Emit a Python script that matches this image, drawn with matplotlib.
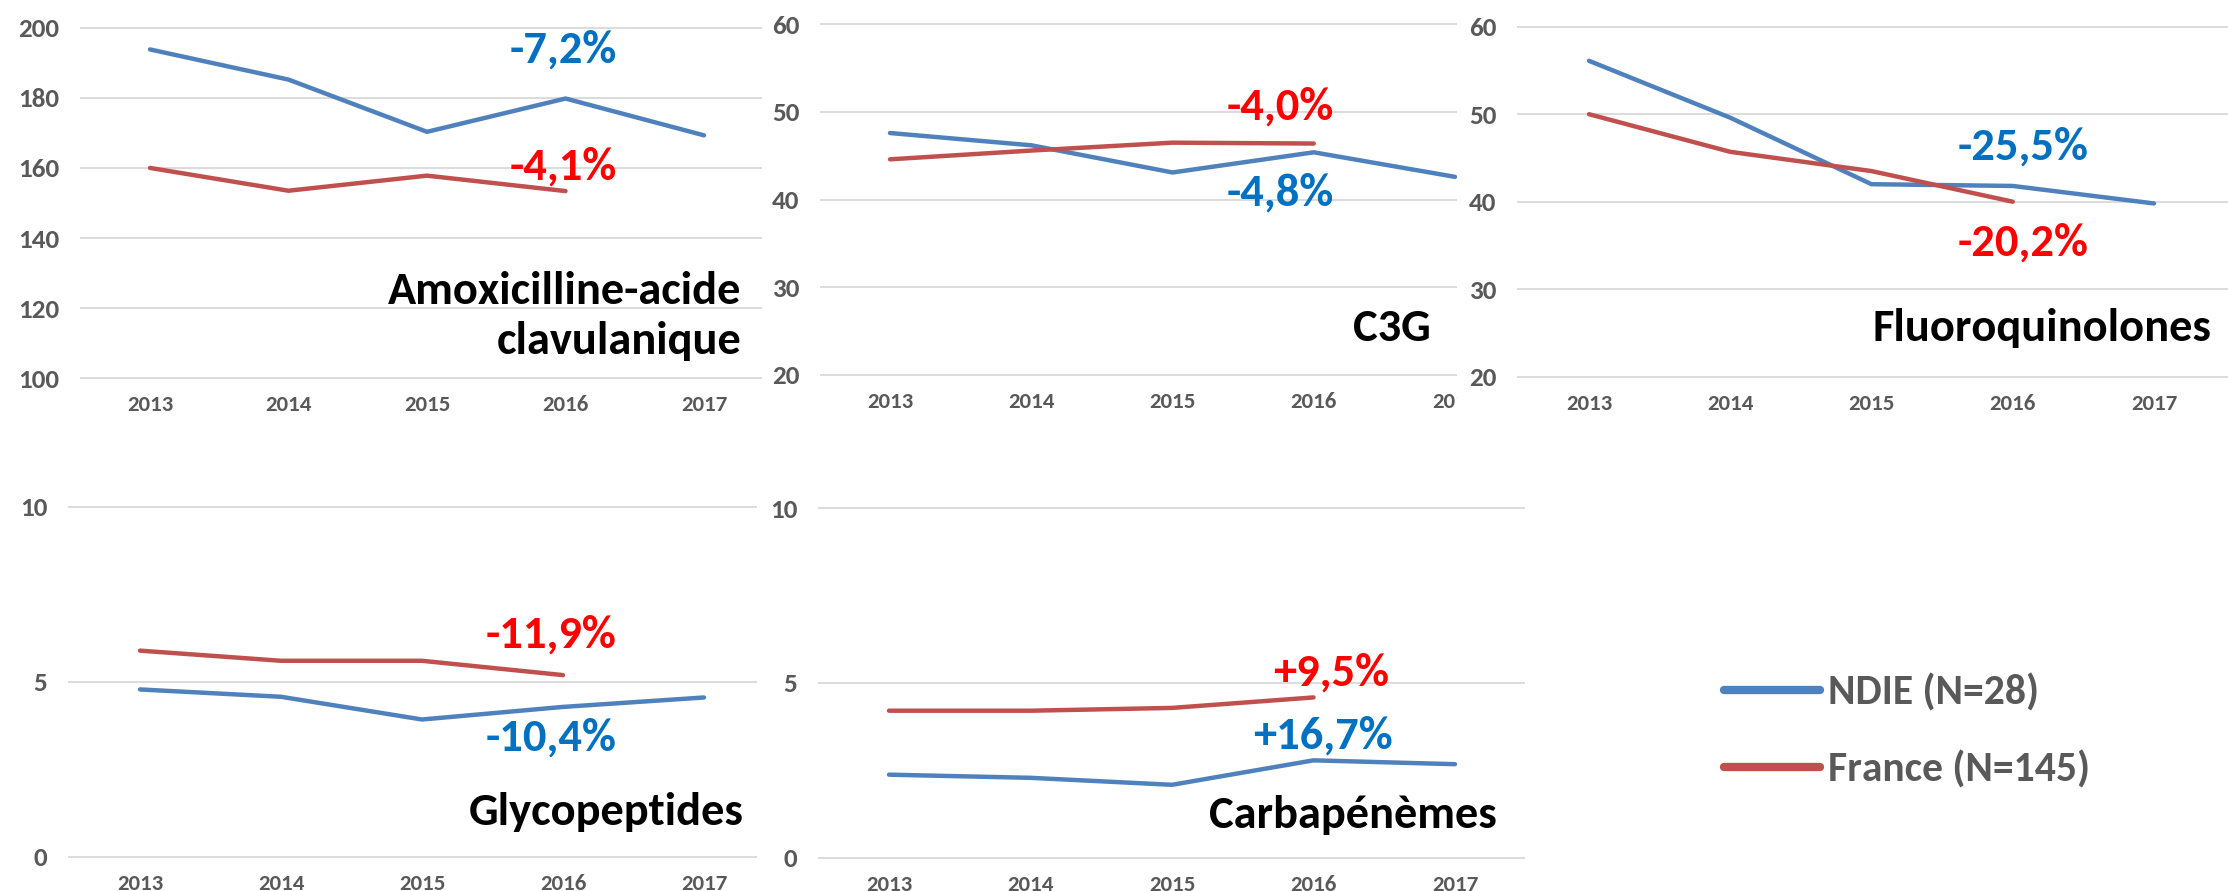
import matplotlib
matplotlib.use("Agg")
import matplotlib.pyplot as plt
from matplotlib.lines import Line2D
from matplotlib.patches import Rectangle

plt.rcParams['font.family'] = ['Carlito', 'Lato', 'DejaVu Sans']

W, H = 2228, 891

years = [2013, 2014, 2015, 2016, 2017]
years_fr = [2013, 2014, 2015, 2016]

# consommation par molecule : NDIE (5 annees) et France (4 annees)
amox_ndie = [193.8, 185.2, 170.3, 179.8, 169.3]
amox_fr = [160.0, 153.5, 157.8, 153.4]
c3g_ndie = [47.6, 46.2, 43.1, 45.4, 42.6]
c3g_fr = [44.6, 45.6, 46.5, 46.4]
fq_ndie = [56.1, 49.6, 42.0, 41.8, 39.8]
fq_fr = [50.0, 45.7, 43.5, 40.0]
gly_ndie = [4.78, 4.57, 3.92, 4.28, 4.55]
gly_fr = [5.89, 5.60, 5.60, 5.19]
carb_ndie = [2.37, 2.28, 2.08, 2.78, 2.67]
carb_fr = [4.20, 4.20, 4.28, 4.58]

titles = ["Amoxicilline-acide\nclavulanique", "C3G", "Fluoroquinolones", "Glycopeptides", "Carbapénèmes"]
pct_ndie = ["-7,2%", "-4,8%", "-25,5%", "-10,4%", "+16,7%"]
pct_fr = ["-4,1%", "-4,0%", "-20,2%", "-11,9%", "+9,5%"]

legend_labels = ["NDIE (N=28)", "France (N=145)"]

BLUE = '#4F81BD'
RED = '#C0504D'
TXT_BLUE = '#0070C0'
TXT_RED = '#FF0000'
GREY = '#595959'

fig = plt.figure(figsize=(W / 100, H / 100), dpi=100)


def panel(left, right, x13, x17, ytop, ybot, ymin, ymax, step, z=0):
    # pixel geometry -> axes with matching limits
    dx = (x17 - x13) / 4
    pad = 6
    dy = (ybot - ytop) / (ymax - ymin)
    ax = fig.add_axes([left / W, 1 - (ybot + pad) / H, (right - left) / W, (ybot - ytop + 2 * pad) / H])
    ax.set_zorder(z)
    ax.set_xlim(2013 - (x13 - left) / dx, 2017 + (right - x17) / dx)
    ax.set_ylim(ymin - pad / dy, ymax + pad / dy)
    ax.set_yticks(range(ymin, ymax + 1, step))
    ax.set_xticks(years)
    ax.set_xticklabels([str(y) for y in years])
    for s in ax.spines.values():
        s.set_visible(False)
    ax.yaxis.grid(True, color='#D9D9D9', lw=1.3)
    ax.set_axisbelow(True)
    ax.tick_params(axis='y', length=0, pad=15, labelsize=19.5, labelcolor=GREY)
    ax.tick_params(axis='x', length=0, pad=8, labelsize=16.5, labelcolor=GREY)
    for lab in ax.get_xticklabels() + ax.get_yticklabels():
        lab.set_fontweight('bold')
    return ax


def draw(ax, ndie, fr):
    ax.plot(years, ndie, color=BLUE, lw=3.2, solid_capstyle='round')
    ax.plot(years_fr, fr, color=RED, lw=3.2, solid_capstyle='round')


def label(x, y, s, color, size=33.5, ha='center', z=3):
    fig.text(x / W, 1 - y / H, s, color=color, fontsize=size, fontweight='bold',
             ha=ha, va='center', linespacing=1.29, zorder=z)


ax1 = panel(80, 762, 150, 704, 27.7, 378.3, 100, 200, 20)
draw(ax1, amox_ndie, amox_fr)
ax2 = panel(820, 1457, 890, 1455, 24.3, 375, 20, 60, 10)
draw(ax2, c3g_ndie, c3g_fr)

# panneau de droite recouvre le bord du panneau C3G
fig.patches.append(Rectangle((1457 / W, 1 - 440 / H), (W - 1457) / W, 440 / H,
                             transform=fig.transFigure, facecolor='white', edgecolor='none', zorder=1))

ax3 = panel(1517, 2228, 1589, 2154, 26.7, 376.7, 20, 60, 10, z=2)
draw(ax3, fq_ndie, fq_fr)
ax4 = panel(68, 757, 140, 704, 507, 856.5, 0, 10, 5)
draw(ax4, gly_ndie, gly_fr)
ax5 = panel(818, 1525, 889, 1455, 508, 857.5, 0, 10, 5)
draw(ax5, carb_ndie, carb_fr)

label(563, 50, pct_ndie[0], TXT_BLUE)
label(563, 167, pct_fr[0], TXT_RED)
label(741, 316, titles[0], 'black', 33.5, 'right')

label(1280, 193, pct_ndie[1], TXT_BLUE)
label(1280, 107, pct_fr[1], TXT_RED)
label(1431, 328, titles[1], 'black', 33.5, 'right')

label(2023, 147, pct_ndie[2], TXT_BLUE)
label(2023, 243, pct_fr[2], TXT_RED)
label(2211, 328, titles[2], 'black', 33.5, 'right')

label(551, 738, pct_ndie[3], TXT_BLUE)
label(551, 635, pct_fr[3], TXT_RED)
label(744, 812, titles[3], 'black', 33.5, 'right')

label(1323, 736, pct_ndie[4], TXT_BLUE)
label(1331, 673, pct_fr[4], TXT_RED)
label(1497, 815, titles[4], 'black', 33.5, 'right')

handles = [Line2D([], [], color=BLUE, lw=6, solid_capstyle='round'),
           Line2D([], [], color=RED, lw=6, solid_capstyle='round')]
leg = fig.legend(handles, legend_labels, loc='center left', bbox_to_anchor=(1724 / W, 1 - 731 / H),
                 frameon=False, fontsize=30, handlelength=2.3, handletextpad=0.2,
                 labelspacing=0.92, borderpad=0, borderaxespad=0)
for t in leg.get_texts():
    t.set_color(GREY)
    t.set_fontweight('bold')

fig.savefig('out.png', dpi=100, facecolor='white')
